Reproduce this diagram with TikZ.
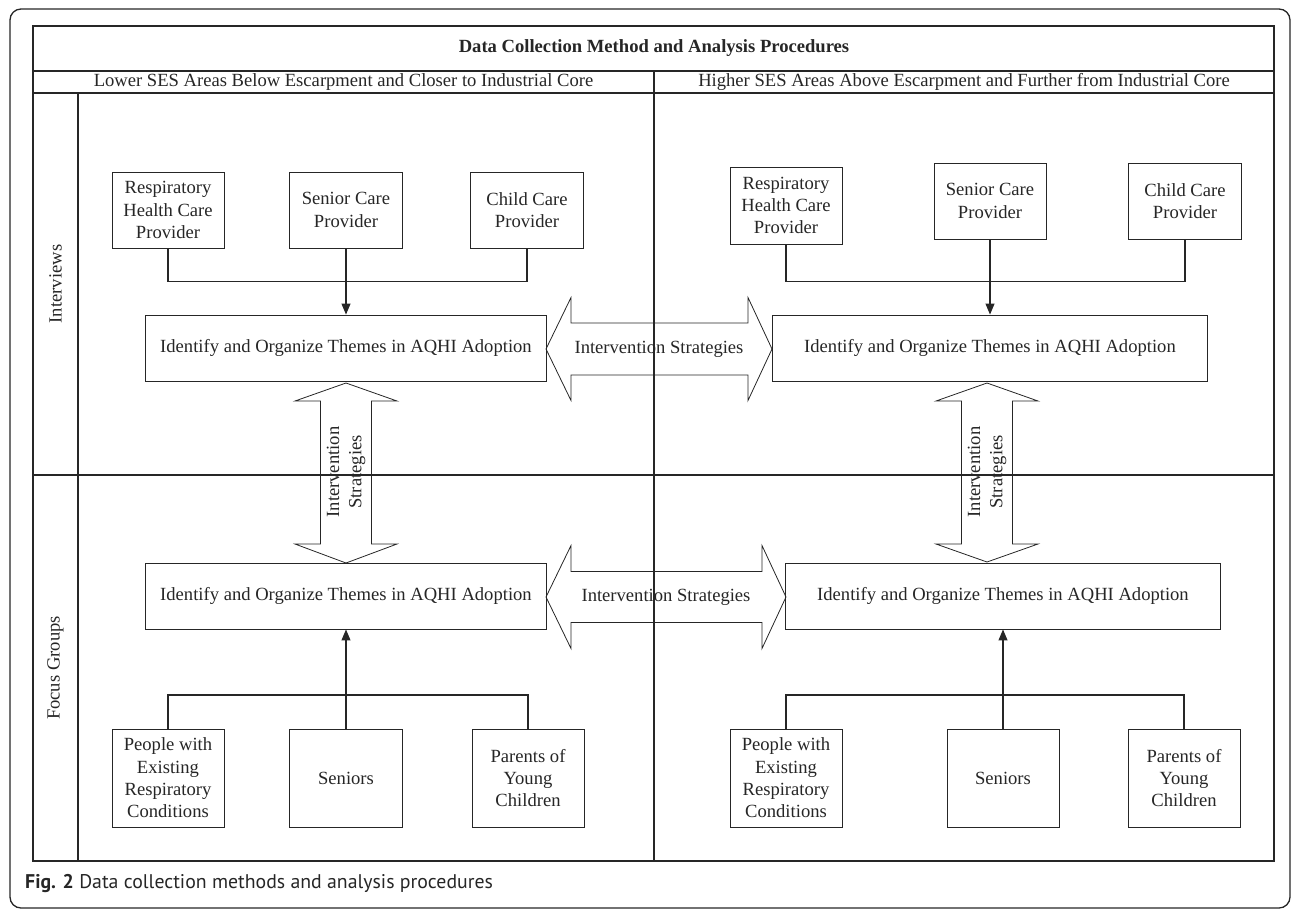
\documentclass[tikz,border=0pt]{standalone}
\usepackage{fontspec}
\setmainfont{Liberation Serif}
\newfontfamily\capfont{PT Sans}
\usetikzlibrary{arrows.meta}
\definecolor{ink}{HTML}{262626}
\begin{document}
\begin{tikzpicture}[x=1pt,y=-1pt,
  every node/.style={text=ink},
  txt/.style={font=\fontsize{18.6}{22.3}\selectfont},
  box/.style={txt,draw=ink,line width=0.9pt,inner sep=0pt,align=center},
  smallbox/.style={box,minimum width=112pt,minimum height=76pt},
  lowbox/.style={box,minimum width=112pt,minimum height=98pt},
  themebox/.style={box,minimum height=66pt},
  wire/.style={draw=ink,line width=1.1pt},
  feed/.style={wire,-{Triangle[length=11pt,width=9pt]}},
  bigarrow/.style={draw=ink,line width=0.8pt,line join=miter},
  grid/.style={draw=ink,line width=1.2pt}]
\useasboundingbox (0,0) rectangle (1293,914);

% outer frame
\draw[draw=ink,line width=1.3pt,rounded corners=11pt] (10,9) rectangle (1290,908);

% top-left boxes
\node[smallbox] (lr1) at (168,210) {Respiratory\\Health Care\\Provider};
\node[smallbox,minimum width=113pt] (ls1) at (346,210) {Senior Care\\Provider};
\node[smallbox,minimum width=113pt] (lc1) at (527,210) {Child Care\\Provider};
\node[themebox,minimum width=401pt] (lt) at (346,348) {Identify and Organize Themes in AQHI Adoption};

% top-right boxes
\node[smallbox,minimum height=77pt] (rr1) at (786,205.5) {Respiratory\\Health Care\\Provider};
\node[smallbox] (rs1) at (990,201) {Senior Care\\Provider};
\node[smallbox,minimum width=113pt] (rc1) at (1185,201) {Child Care\\Provider};
\node[themebox,minimum width=435pt] (rt) at (990,348) {Identify and Organize Themes in AQHI Adoption};

% bottom-left boxes
\node[themebox,minimum width=401pt] (lb) at (346,596) {Identify and Organize Themes in AQHI Adoption};
\node[lowbox] (lp) at (168,778) {People with\\Existing\\Respiratory\\Conditions};
\node[lowbox,minimum width=113pt] (lsn) at (346,778) {Seniors};
\node[lowbox] (lpa) at (528,778) {Parents of\\Young\\Children};

% bottom-right boxes
\node[themebox,minimum width=435pt] (rb) at (1003,596) {Identify and Organize Themes in AQHI Adoption};
\node[lowbox] (rp) at (786,778) {People with\\Existing\\Respiratory\\Conditions};
\node[lowbox] (rsn) at (1003,778) {Seniors};
\node[lowbox] (rpa) at (1184,778) {Parents of\\Young\\Children};

% connectors
\coordinate (lj) at (346,281.5);
\coordinate (rj) at (990,281.5);
\coordinate (lbj) at (346,695);
\coordinate (rbj) at (1003,695);
\draw[wire] (lr1.south) |- (lj) -| (lc1.south);
\draw[feed] (ls1.south) -- (ls1.south |- lt.north);
\draw[wire] (rr1.south) |- (rj) -| (rc1.south);
\draw[feed] (rs1.south) -- (rs1.south |- rt.north);
\draw[wire] (lp.north) |- (lbj) -| (lpa.north);
\draw[feed] (lsn.north) -- (lsn.north |- lb.south);
\draw[wire] (rp.north) |- (rbj) -| (rpa.north);
\draw[feed] (rsn.north) -- (rsn.north |- rb.south);

% big double arrows
\draw[bigarrow] (546,349) -- (571,297.5) -- (571,323) -- (748,323) -- (748,297.5) -- (772,349)
  -- (748,400.5) -- (748,375) -- (571,375) -- (571,400.5) -- cycle;
\node[txt] (ha1) at (659,349) {Intervention Strategies};
\draw[bigarrow] (546,597) -- (571,545.5) -- (571,571.5) -- (762,571.5) -- (762,545.5) -- (786,597)
  -- (762,648.5) -- (762,622.5) -- (571,622.5) -- (571,648.5) -- cycle;
\node[txt] (ha2) at (666,597) {Intervention Strategies};
\draw[bigarrow] (346,383) -- (295,401) -- (320.5,401) -- (320.5,544) -- (295,544) -- (346,563)
  -- (397,544) -- (371.5,544) -- (371.5,401) -- (397,401) -- cycle;
\node[txt,rotate=90,align=center] (va1) at (346,472) {Intervention\\Strategies};
\draw[bigarrow] (987,383) -- (936,401) -- (961.5,401) -- (961.5,544) -- (936,544) -- (987,562)
  -- (1038,544) -- (1012.5,544) -- (1012.5,401) -- (1038,401) -- cycle;
\node[txt,rotate=90,align=center] (va2) at (987,472) {Intervention\\Strategies};

% table grid
\draw[grid] (33,26) rectangle (1274,861);
\draw[grid] (33,71) -- (1274,71);
\draw[grid] (33,93) -- (1274,93);
\draw[grid] (78,93) -- (78,861);
\draw[grid,line width=1.5pt] (33,475) -- (1274,475);
\draw[draw=ink,line width=2pt] (654,71) -- (654,861);

% headings
\node[txt,font=\fontsize{18.6}{22.3}\selectfont\bfseries] (title) at (654,48.5) {Data Collection Method and Analysis Procedures};
\node[txt] (h1) at (343.5,82) {Lower SES Areas Below Escarpment and Closer to Industrial Core};
\node[txt] (h2) at (964,82) {Higher SES Areas Above Escarpment and Further from Industrial Core};
\node[txt,rotate=90] (rowa) at (55.5,284) {Interviews};
\node[txt,rotate=90] (rowb) at (55.5,668) {Focus Groups};

% caption
\node[anchor=west,inner sep=0pt,font=\capfont\fontsize{19.8}{23}\selectfont] (cap) at (25,884) {\textbf{Fig. 2} Data collection methods and analysis procedures};
\end{tikzpicture}
\end{document}
